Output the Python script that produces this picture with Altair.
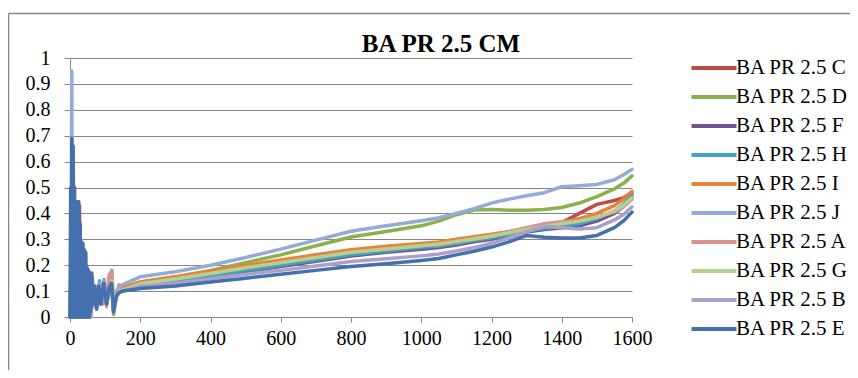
import altair as alt
import pandas as pd

SERIES = ["BA PR 2.5 C", "BA PR 2.5 D", "BA PR 2.5 F", "BA PR 2.5 H", "BA PR 2.5 I",
          "BA PR 2.5 J", "BA PR 2.5 A", "BA PR 2.5 G", "BA PR 2.5 B", "BA PR 2.5 E"]
COLORS = ["#BE4B48", "#8BB14A", "#6F5394", "#3FA5BE", "#E8823A",
          "#93ABD6", "#D9908F", "#B6D08E", "#ABA0C8", "#4471AE"]

X_TICKS = [0, 200, 400, 600, 800, 1000, 1200, 1400, 1600]
Y_TICKS = [0, 0.1, 0.2, 0.3, 0.4, 0.5, 0.6, 0.7, 0.8, 0.9, 1.0]

# smooth part (x >= 150)
SMOOTH_X = [150, 200, 300, 400, 500, 600, 700, 800, 900, 1000, 1050, 1100, 1150,
            1200, 1250, 1300, 1350, 1400, 1450, 1500, 1550, 1575, 1600]
C_SMOOTH = [0.11, 0.13, 0.15, 0.172, 0.195, 0.215, 0.235, 0.255, 0.268, 0.28, 0.286, 0.296, 0.306,
            0.316, 0.326, 0.338, 0.35, 0.365, 0.4, 0.435, 0.45, 0.46, 0.48]
D_SMOOTH = [0.11, 0.135, 0.155, 0.18, 0.21, 0.24, 0.275, 0.309, 0.33, 0.352, 0.37, 0.395, 0.413,
            0.415, 0.412, 0.412, 0.415, 0.423, 0.44, 0.465, 0.495, 0.515, 0.545]
F_SMOOTH = [0.1, 0.122, 0.138, 0.155, 0.175, 0.195, 0.215, 0.235, 0.25, 0.262, 0.268, 0.278, 0.29,
            0.3, 0.314, 0.328, 0.338, 0.345, 0.352, 0.37, 0.4, 0.425, 0.46]
H_SMOOTH = [0.105, 0.125, 0.14, 0.158, 0.18, 0.2, 0.22, 0.24, 0.255, 0.268, 0.274, 0.284, 0.295,
            0.306, 0.318, 0.332, 0.342, 0.35, 0.36, 0.38, 0.41, 0.435, 0.47]
I_SMOOTH = [0.115, 0.135, 0.155, 0.177, 0.2, 0.22, 0.24, 0.26, 0.273, 0.284, 0.29, 0.3, 0.31,
            0.32, 0.33, 0.343, 0.354, 0.365, 0.38, 0.4, 0.43, 0.455, 0.485]
J_SMOOTH = [0.125, 0.155, 0.175, 0.2, 0.23, 0.262, 0.297, 0.331, 0.352, 0.372, 0.383, 0.4, 0.418,
            0.44, 0.455, 0.468, 0.48, 0.503, 0.507, 0.512, 0.53, 0.548, 0.57]
A_SMOOTH = [0.1, 0.13, 0.148, 0.168, 0.19, 0.21, 0.23, 0.25, 0.262, 0.274, 0.28, 0.29, 0.3,
            0.312, 0.328, 0.345, 0.36, 0.368, 0.372, 0.385, 0.405, 0.425, 0.455]
G_SMOOTH = [0.105, 0.128, 0.147, 0.168, 0.19, 0.21, 0.23, 0.25, 0.263, 0.276, 0.282, 0.292, 0.302,
            0.313, 0.325, 0.338, 0.35, 0.36, 0.37, 0.385, 0.41, 0.43, 0.46]
B_SMOOTH = [0.1, 0.118, 0.13, 0.148, 0.165, 0.18, 0.197, 0.214, 0.225, 0.236, 0.243, 0.255, 0.268,
            0.285, 0.305, 0.33, 0.35, 0.345, 0.34, 0.345, 0.375, 0.395, 0.425]
E_SMOOTH = [0.1, 0.11, 0.12, 0.135, 0.15, 0.165, 0.18, 0.195, 0.206, 0.218, 0.226, 0.24, 0.254,
            0.27, 0.29, 0.315, 0.308, 0.305, 0.305, 0.315, 0.345, 0.37, 0.405]

# noisy start (x < 150)
GEN_NOISE_X = [0, 10, 20, 30, 40, 50, 58, 62, 66, 72, 78, 84, 90, 97, 104, 111, 119, 124, 132, 140]
F_NOISE_Y = [0, 0.3, 0, 0.25, 0, 0.15, 0, 0.14, 0.05, 0.1, 0.05, 0.12, 0.05, 0.12, 0.05, 0.1, 0.13, 0.03, 0.08, 0.095]
G_NOISE_Y = [0, 0.3, 0, 0.25, 0, 0.15, 0, 0.13, 0.05, 0.1, 0.05, 0.11, 0.05, 0.12, 0.05, 0.1, 0.14, 0.03, 0.08, 0.1]
B_NOISE_Y = [0, 0.3, 0, 0.25, 0, 0.15, 0, 0.13, 0.04, 0.1, 0.04, 0.11, 0.05, 0.12, 0.05, 0.1, 0.13, 0.03, 0.08, 0.095]
D_NOISE_Y = [0, 0.25, 0, 0.2, 0, 0.12, 0, 0.13, 0.05, 0.1, 0.05, 0.11, 0.05, 0.12, 0.05, 0.1, 0.13, 0.01, 0.08, 0.1]
H_NOISE_Y = [0, 0.3, 0, 0.25, 0, 0.15, 0, 0.15, 0.05, 0.11, 0.05, 0.14, 0.06, 0.145, 0.06, 0.1, 0.14, 0.03, 0.09, 0.1]
A_NOISE_Y = [0, 0.3, 0, 0.25, 0, 0.15, 0, 0.14, 0.04, 0.1, 0.04, 0.12, 0.05, 0.13, 0.04, 0.16, 0.18, 0.03, 0.08, 0.1]

I_NOISE_X = [0, 10, 20, 30, 40, 50, 58, 62, 66, 72, 78, 84, 90, 97, 104, 111, 119, 124, 132, 140, 146]
I_NOISE_Y = [0, 0.3, 0, 0.25, 0, 0.15, 0, 0.13, 0.05, 0.1, 0.05, 0.12, 0.05, 0.12, 0.05, 0.1, 0.13, 0.03, 0.09, 0.123, 0.12]

C_NOISE_X = [0, 4, 8, 12, 16, 20, 23, 27, 30, 33, 38, 44, 50, 56, 62, 66, 72, 80, 86, 92, 98, 104, 111, 119, 124, 132, 140]
C_NOISE_Y = [0, 0.3, 0, 0.35, 0, 0.3, 0, 0.43, 0, 0.25, 0, 0.2, 0, 0.12, 0.12, 0.04, 0.11, 0.05, 0.12, 0.05, 0.12, 0.05, 0.1, 0.15, 0.03, 0.09, 0.105]

J_NOISE_X = [0, 3, 5, 7, 10, 13, 17, 21, 25, 30, 35, 40, 45, 50, 55, 60, 64, 68, 72, 78, 84, 90, 97, 104, 111, 119, 124, 132, 140]
J_NOISE_Y = [0.05, 0, 0.95, 0, 0.4, 0, 0.35, 0, 0.3, 0, 0.25, 0, 0.2, 0, 0.15, 0, 0.15, 0.05, 0.12, 0.04, 0.13, 0.06, 0.14, 0.06, 0.1, 0.18, 0.04, 0.1, 0.115]

E_NOISE_X = [0, 2, 4, 5, 7, 9, 11, 13, 15, 17, 19, 21, 23, 25, 27, 29, 31, 33, 35, 37, 39, 41, 43,
             45, 47, 49, 51, 53, 55, 57, 59, 62, 66, 70, 76, 82, 88, 96, 104, 111, 118, 124, 132, 140]
E_NOISE_Y = [0, 0.5, 0, 0.69, 0, 0.66, 0, 0.5, 0, 0.445, 0, 0.445, 0, 0.445, 0, 0.36, 0, 0.29, 0, 0.285, 0,
             0.26, 0, 0.25, 0, 0.19, 0, 0.18, 0, 0.17, 0.02, 0.17, 0.05, 0.12, 0.03, 0.12, 0.05, 0.13, 0.05,
             0.11, 0.13, 0.02, 0.08, 0.095]

NOISE = {
    "BA PR 2.5 C": (C_NOISE_X, C_NOISE_Y, C_SMOOTH),
    "BA PR 2.5 D": (GEN_NOISE_X, D_NOISE_Y, D_SMOOTH),
    "BA PR 2.5 F": (GEN_NOISE_X, F_NOISE_Y, F_SMOOTH),
    "BA PR 2.5 H": (GEN_NOISE_X, H_NOISE_Y, H_SMOOTH),
    "BA PR 2.5 I": (I_NOISE_X, I_NOISE_Y, I_SMOOTH),
    "BA PR 2.5 J": (J_NOISE_X, J_NOISE_Y, J_SMOOTH),
    "BA PR 2.5 A": (GEN_NOISE_X, A_NOISE_Y, A_SMOOTH),
    "BA PR 2.5 G": (GEN_NOISE_X, G_NOISE_Y, G_SMOOTH),
    "BA PR 2.5 B": (GEN_NOISE_X, B_NOISE_Y, B_SMOOTH),
    "BA PR 2.5 E": (E_NOISE_X, E_NOISE_Y, E_SMOOTH),
}

rows = []
for name in SERIES:
    nx, ny, sy = NOISE[name]
    for xv, yv in zip(nx + SMOOTH_X, ny + sy):
        rows.append({"series": name, "x": xv, "y": yv})
df = pd.DataFrame(rows)

FONT = "Liberation Serif"
GRAY = "#868686"

x_enc = alt.X("x:Q", scale=alt.Scale(domain=[0, 1600], nice=False),
              axis=alt.Axis(values=X_TICKS, grid=False, title=None, tickSize=5,
                            labelPadding=6, labelFlush=False, format="d"))
y_enc = alt.Y("y:Q", scale=alt.Scale(domain=[0, 1], nice=False),
              axis=alt.Axis(values=Y_TICKS, grid=True, title=None, tickSize=6,
                            labelPadding=14, format=".1~f"))
color_enc = alt.Color("series:N",
                      scale=alt.Scale(domain=SERIES, range=COLORS),
                      legend=alt.Legend(title=None, orient="none", legendX=632, legendY=-2,
                                        symbolType="M-2.25,0H2.25", symbolSize=400,
                                        symbolStrokeWidth=4, labelOffset=10,
                                        rowPadding=7, labelFont=FONT, labelFontSize=21,
                                        labelColor="black", labelLimit=300))

layers = []
for name in SERIES:
    layers.append(
        alt.Chart(df).transform_filter(alt.datum.series == name)
        .mark_line(strokeWidth=3.5, strokeJoin="round", strokeCap="round")
        .encode(x=x_enc, y=y_enc, color=color_enc)
    )

frame = pd.DataFrame({"a": [0]})
left_border = alt.Chart(frame).mark_rule(color=GRAY, strokeWidth=1.5).encode(
    x=alt.value(-61.5), y=alt.value(-44.5), y2=alt.value(420))
top_border = alt.Chart(frame).mark_rule(color=GRAY, strokeWidth=1.5).encode(
    x=alt.value(-61.5), x2=alt.value(900), y=alt.value(-44.5))

chart = alt.layer(left_border, top_border, *layers).properties(
    width=562, height=259,
    padding={"left": 62, "top": 50, "right": 218, "bottom": 53},
    autosize=alt.AutoSizeParams(type="none"),
    title=alt.TitleParams("BA PR 2.5 CM", font=FONT, fontSize=25, fontWeight="bold",
                          anchor="middle", dx=90, offset=-44, color="black"),
).configure_view(stroke=None).configure_axis(
    labelFont=FONT, labelFontSize=20, labelColor="black",
    domainColor=GRAY, tickColor=GRAY, gridColor=GRAY, gridWidth=1, domainWidth=1
)

chart.save("out.html", embed_options={"renderer": "svg", "actions": False})
